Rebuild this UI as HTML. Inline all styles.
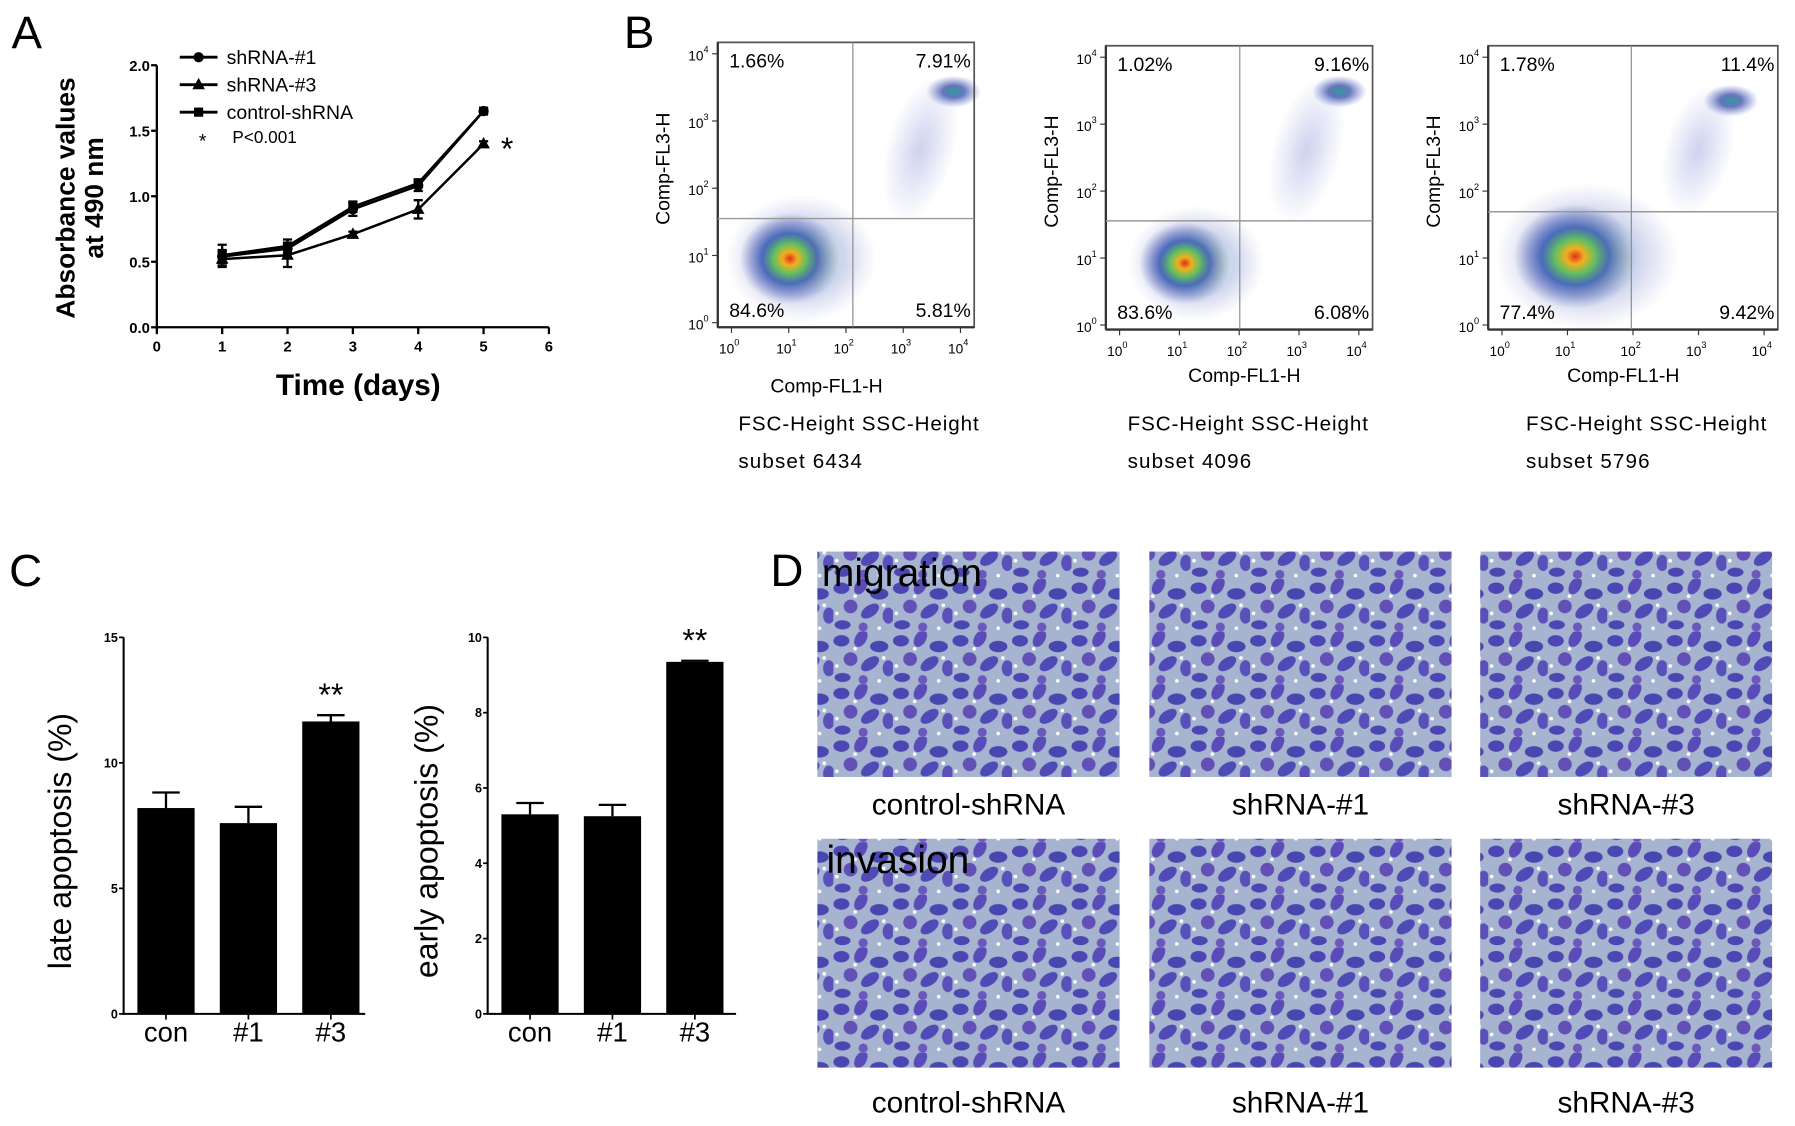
<!DOCTYPE html>
<html><head><meta charset="utf-8"><style>
html,body{margin:0;padding:0;background:#fff;}
svg{display:block;font-family:"Liberation Sans",sans-serif;}
</style></head><body>
<svg id="fig" width="1795" height="1126" viewBox="0 0 1568 984" preserveAspectRatio="none" xmlns="http://www.w3.org/2000/svg">
<defs>
  <radialGradient id="dens" cx="50%" cy="50%" r="50%">
    <stop offset="0" stop-color="#e0301a"/>
    <stop offset="0.15" stop-color="#f0b020"/>
    <stop offset="0.33" stop-color="#60c060"/>
    <stop offset="0.55" stop-color="#2a4fb0" stop-opacity="0.8"/>
    <stop offset="0.8" stop-color="#4050b0" stop-opacity="0.35"/>
    <stop offset="1" stop-color="#6070c0" stop-opacity="0"/>
  </radialGradient>
  <radialGradient id="densSmall" cx="50%" cy="50%" r="50%">
    <stop offset="0" stop-color="#30a0a0"/>
    <stop offset="0.4" stop-color="#2a40a0" stop-opacity="0.7"/>
    <stop offset="1" stop-color="#5060c0" stop-opacity="0"/>
  </radialGradient>
  <radialGradient id="streak" cx="50%" cy="50%" r="50%">
    <stop offset="0" stop-color="#5a6ac8" stop-opacity="0.3"/>
    <stop offset="1" stop-color="#5a6ac8" stop-opacity="0"/>
  </radialGradient>
  <pattern id="cells" width="52" height="46" patternUnits="userSpaceOnUse">
    <rect width="52" height="46" fill="#a6b4d0"/>
    <ellipse cx="7" cy="8" rx="7" ry="5" fill="#4c46b4"/>
    <ellipse cx="24" cy="6" rx="5" ry="8" fill="#5a4cb8" transform="rotate(30 24 6)"/>
    <ellipse cx="40" cy="13" rx="8" ry="5" fill="#4a46b0"/>
    <ellipse cx="15" cy="24" rx="6" ry="6" fill="#6250b6"/>
    <ellipse cx="32" cy="28" rx="9" ry="5" fill="#4f4ab6" transform="rotate(-35 32 28)"/>
    <ellipse cx="48" cy="32" rx="5" ry="7" fill="#5a50ba"/>
    <ellipse cx="8" cy="40" rx="7" ry="4" fill="#4c46b2"/>
    <ellipse cx="26" cy="42" rx="4" ry="4" fill="#6a58bc"/>
    <circle cx="19" cy="15" r="1.6" fill="#fff"/>
    <circle cx="44" cy="23" r="1.6" fill="#fff"/>
    <circle cx="3" cy="30" r="1.6" fill="#fff"/>
    <circle cx="40" cy="43" r="1.6" fill="#fff"/>
  </pattern>
</defs>
<g id="panelA"></g>
<g id="panelB"></g>
<g id="panelC"></g>
<g id="panelD"></g>
</svg>
<script>
// ---- Panel A data ----
const days = [1, 2, 3, 4, 5];
const xTicksA = [0, 1, 2, 3, 4, 5, 6];
const yTicksA = [0.0, 0.5, 1.0, 1.5, 2.0];
const sh1 = [0.54, 0.60, 0.90, 1.08, 1.65];
const sh1Err = [0.05, 0.04, 0.05, 0.04, 0.01];
const sh3 = [0.52, 0.55, 0.71, 0.90, 1.40];
const sh3Err = [0.06, 0.09, 0.02, 0.07, 0.02];
const ctrl = [0.55, 0.62, 0.92, 1.10, 1.65];
const ctrlErr = [0.08, 0.05, 0.04, 0.03, 0.01];
// ---- Panel B data ----
const flowQuadTL = ["1.66%", "1.02%", "1.78%"];
const flowQuadTR = ["7.91%", "9.16%", "11.4%"];
const flowQuadBL = ["84.6%", "83.6%", "77.4%"];
const flowQuadBR = ["5.81%", "6.08%", "9.42%"];
const flowSubsets = ["6434", "4096", "5796"];
// ---- Panel C data ----
const groupsC = ["con", "#1", "#3"];
const lateVals = [8.2, 7.6, 11.65];
const lateErr = [0.62, 0.65, 0.25];
const lateTicks = [0, 5, 10, 15];
const earlyVals = [5.3, 5.25, 9.35];
const earlyErr = [0.3, 0.3, 0.03];
const earlyTicks = [0, 2, 4, 6, 8, 10];
// ---- Panel D labels ----
const dGroups = ["control-shRNA", "shRNA-#1", "shRNA-#3"];
const dRows = ["migration", "invasion"];

const NS = "http://www.w3.org/2000/svg";
function mk(parent, tag, attrs, text) {
  const e = document.createElementNS(NS, tag);
  for (const k in attrs) e.setAttribute(k, attrs[k]);
  if (text !== undefined) e.textContent = text;
  parent.appendChild(e);
  return e;
}

// ================= Panel A =================
(function(){
  const g = document.getElementById('panelA');
  const x0 = 137, x1 = 479.5, yb = 286, yt = 57;
  const xs = v => x0 + (v - 0) / 6 * (x1 - x0);
  const ys = v => yb - v / 2.0 * (yb - yt);
  let t = mk(g, 'text', {x: 10, y: 42, 'font-size': 40}, 'A');
  
  
  let ax = mk(g, 'path', {d: `M${x0},${yt} V${yb} H${x1}`, stroke: '#000', 'stroke-width': 2, fill: 'none'});
  
  
  yTicksA.forEach(v => {
    mk(g, 'line', {x1: x0 - 5, x2: x0, y1: ys(v), y2: ys(v), stroke: '#000', 'stroke-width': 2});
    const l = mk(g, 'text', {x: x0 - 6, y: ys(v) + 5, 'font-size': 13, 'font-weight': 'bold', 'text-anchor': 'end'}, v.toFixed(1));
    
    
  });
  xTicksA.forEach(v => {
    mk(g, 'line', {x1: xs(v), x2: xs(v), y1: yb, y2: yb + 6, stroke: '#000', 'stroke-width': 2});
    const l = mk(g, 'text', {x: xs(v), y: yb + 21, 'font-size': 13, 'font-weight': 'bold', 'text-anchor': 'middle'}, String(v));
    
    
  });
  t = mk(g, 'text', {x: 313, y: 345, 'font-size': 26, 'font-weight': 'bold', 'text-anchor': 'middle'}, 'Time (days)');
  
  
  t = mk(g, 'text', {x: 0, y: 0, 'font-size': 23, 'font-weight': 'bold', 'text-anchor': 'middle', transform: 'translate(65,173) rotate(-90)'}, 'Absorbance values');
  
  
  t = mk(g, 'text', {x: 0, y: 0, 'font-size': 23, 'font-weight': 'bold', 'text-anchor': 'middle', transform: 'translate(90,173) rotate(-90)'}, 'at 490 nm');
  
  

  function marker(gp, type, cx, cy) {
    if (type === 'circle') return mk(gp, 'circle', {cx: cx, cy: cy, r: 4.5, fill: '#000'});
    if (type === 'square') return mk(gp, 'rect', {x: cx - 4, y: cy - 4, width: 8, height: 8, fill: '#000'});
    return mk(gp, 'path', {d: `M${cx},${cy - 6} L${cx + 5.5},${cy + 4} L${cx - 5.5},${cy + 4} Z`, fill: '#000'});
  }
  const series = [
    {name: 'shRNA-#1', vals: sh1, err: sh1Err, m: 'circle'},
    {name: 'shRNA-#3', vals: sh3, err: sh3Err, m: 'triangle'},
    {name: 'control-shRNA', vals: ctrl, err: ctrlErr, m: 'square'}
  ];
  series.forEach((s, si) => {
    const sg = mk(g, 'g', {});
    
    
    mk(sg, 'polyline', {points: days.map((d, i) => xs(d) + ',' + ys(s.vals[i])).join(' '), fill: 'none', stroke: '#000', 'stroke-width': 2.2});
    days.forEach((d, i) => {
      const cx = xs(d), lo = ys(s.vals[i] - s.err[i]), hi = ys(s.vals[i] + s.err[i]);
      mk(sg, 'path', {d: `M${cx},${lo} V${hi} M${cx - 4},${lo} H${cx + 4} M${cx - 4},${hi} H${cx + 4}`, stroke: '#000', 'stroke-width': 2, fill: 'none'});
      const p = marker(sg, s.m, cx, ys(s.vals[i]));
      
      
    });
    const ly = 50 + si * 24;
    const lg = mk(g, 'g', {});
    
    
    mk(lg, 'line', {x1: 157, x2: 190, y1: ly, y2: ly, stroke: '#000', 'stroke-width': 2.5});
    marker(lg, s.m, 173.5, ly);
    mk(lg, 'text', {x: 198, y: ly + 6, 'font-size': 17}, s.name);
  });
  const lg = mk(g, 'g', {});
  
  
  mk(lg, 'text', {x: 177, y: 129, 'font-size': 17, 'text-anchor': 'middle'}, '*');
  mk(lg, 'text', {x: 203, y: 125, 'font-size': 15}, 'P<0.001');
  t = mk(g, 'text', {x: 443, y: 140, 'font-size': 28, 'text-anchor': 'middle'}, '*');
  
  
})();

// ================= Panel B =================
(function(){
  const g = document.getElementById('panelB');
  let t = mk(g, 'text', {x: 545, y: 42, 'font-size': 40}, 'B');
  
  
  const plots = [
    {l: 627, r: 851, top: 37, bot: 286, gx: 745, gy: 191, cx: 690, cy: 226, rx: 44, ry: 40, tx: 833, ty: 80, xt: 722, xty: 343, fx: 645},
    {l: 966, r: 1199, top: 40, bot: 288, gx: 1083, gy: 193, cx: 1035, cy: 230, rx: 40, ry: 36, tx: 1170, ty: 80, xt: 1087, xty: 334, fx: 985},
    {l: 1300, r: 1553, top: 40, bot: 288, gx: 1425, gy: 185, cx: 1376, cy: 224, rx: 54, ry: 46, tx: 1512, ty: 88, xt: 1418, xty: 334, fx: 1333}
  ];
  plots.forEach((p, i) => {
    const pg = mk(g, 'g', {});
    
    
    const sx = (p.gx + 30 + p.tx) / 2, sy = (p.gy - 10 + p.ty) / 2;
    mk(pg, 'ellipse', {cx: sx, cy: sy, rx: 30, ry: (p.gy - p.ty) / 2 + 10, fill: 'url(#streak)', transform: `rotate(15 ${sx} ${sy})`});
    mk(pg, 'ellipse', {cx: p.cx + 10, cy: p.cy, rx: p.rx * 1.5, ry: p.ry * 1.4, fill: 'url(#dens)', opacity: 0.3});
    mk(pg, 'ellipse', {cx: p.cx, cy: p.cy, rx: p.rx, ry: p.ry, fill: 'url(#dens)'});
    mk(pg, 'ellipse', {cx: p.tx, cy: p.ty, rx: 24, ry: 14, fill: 'url(#densSmall)'});
    mk(pg, 'path', {d: `M${p.l},${p.top} H${p.r} V${p.bot} H${p.l} Z`, fill: 'none', stroke: '#555', 'stroke-width': 1.5});
    mk(pg, 'line', {x1: p.l, x2: p.l, y1: p.top, y2: p.bot, stroke: '#333', 'stroke-width': 2});
    mk(pg, 'line', {x1: p.l, x2: p.r, y1: p.bot, y2: p.bot, stroke: '#333', 'stroke-width': 2});
    mk(pg, 'line', {x1: p.gx, x2: p.gx, y1: p.top, y2: p.bot, stroke: '#888', 'stroke-width': 1});
    mk(pg, 'line', {x1: p.l, x2: p.r, y1: p.gy, y2: p.gy, stroke: '#999', 'stroke-width': 1.3});
    for (let d = 0; d <= 4; d++) {
      const yy = p.bot - 4 - d * (p.bot - p.top - 14) / 4;
      const xx = p.l + 12 + d * (p.r - p.l - 24) / 4;
      mk(pg, 'line', {x1: p.l - 5, x2: p.l, y1: yy, y2: yy, stroke: '#333'});
      mk(pg, 'line', {x1: xx, x2: xx, y1: p.bot, y2: p.bot + 5, stroke: '#333'});
      const yl = mk(pg, 'text', {x: p.l - 8, y: yy + 6, 'font-size': 12, 'text-anchor': 'end'}, '10');
      mk(yl, 'tspan', {dy: -7, 'font-size': 8}, String(d));
      const xl = mk(pg, 'text', {x: xx - 2, y: p.bot + 23, 'font-size': 12, 'text-anchor': 'middle'}, '10');
      mk(xl, 'tspan', {dy: -7, 'font-size': 8}, String(d));
    }
    const q = [[p.l + 10, p.top + 22, 'start', flowQuadTL[i]], [p.r - 3, p.top + 22, 'end', flowQuadTR[i]], [p.l + 10, p.bot - 9, 'start', flowQuadBL[i]], [p.r - 3, p.bot - 9, 'end', flowQuadBR[i]]];
    q.forEach(a => {
      const qt = mk(pg, 'text', {x: a[0], y: a[1], 'font-size': 17, 'text-anchor': a[2]}, a[3]);
      
      
    });
    const yt = mk(pg, 'text', {x: 0, y: 0, 'font-size': 17, 'text-anchor': 'middle', transform: `translate(${p.l - 42},${(p.top + p.bot) / 2 - 14}) rotate(-90)`}, 'Comp-FL3-H');
    
    
    const xt = mk(pg, 'text', {x: p.xt, y: p.xty, 'font-size': 17, 'text-anchor': 'middle'}, 'Comp-FL1-H');
    
    
    const f1 = mk(pg, 'text', {x: p.fx, y: 376, 'font-size': 18, textLength: 210, lengthAdjust: 'spacing'}, 'FSC-Height  SSC-Height');
    
    
    const f2 = mk(pg, 'text', {x: p.fx, y: 409, 'font-size': 18, textLength: 108, lengthAdjust: 'spacing'}, 'subset  ' + flowSubsets[i]);
    
    
  });
})();

// ================= Panel C =================
(function(){
  const g = document.getElementById('panelC');
  let t = mk(g, 'text', {x: 8, y: 512, 'font-size': 40}, 'C');
  
  
  const charts = [
    {ax: 108, end: 319, bx: [120, 192, 264], bw: 50, max: 15, vals: lateVals, err: lateErr, ticks: lateTicks, title: 'late apoptosis (%)', tx: 52, name: 'late-apoptosis-chart'},
    {ax: 426, end: 643, bx: [438, 510, 582], bw: 50, max: 10, vals: earlyVals, err: earlyErr, ticks: earlyTicks, title: 'early apoptosis (%)', tx: 372, name: 'early-apoptosis-chart'}
  ];
  const yb = 886, yt = 557;
  charts.forEach(c => {
    const cg = mk(g, 'g', {});
    
    
    const ys = v => yb - v / c.max * (yb - yt);
    mk(cg, 'path', {d: `M${c.ax},${yt} V${yb} H${c.end}`, stroke: '#000', 'stroke-width': 1.8, fill: 'none'});
    c.ticks.forEach(v => {
      mk(cg, 'line', {x1: c.ax - 4, x2: c.ax, y1: ys(v), y2: ys(v), stroke: '#000', 'stroke-width': 1.5});
      const l = mk(cg, 'text', {x: c.ax - 5, y: ys(v) + 4, 'font-size': 11, 'font-weight': 'bold', 'text-anchor': 'end'}, String(v));
      
      
    });
    c.vals.forEach((v, i) => {
      const x = c.bx[i], cx = x + c.bw / 2;
      const b = mk(cg, 'rect', {x: x, y: ys(v), width: c.bw, height: yb - ys(v), fill: '#000'});
      
      
      const hi = ys(v + c.err[i]);
      mk(cg, 'path', {d: `M${cx},${ys(v)} V${hi} M${cx - 12},${hi} H${cx + 12}`, stroke: '#000', 'stroke-width': 2, fill: 'none'});
      mk(cg, 'line', {x1: cx, x2: cx, y1: yb, y2: yb + 5, stroke: '#000', 'stroke-width': 1.5});
      const l = mk(cg, 'text', {x: cx, y: yb + 24, 'font-size': 24, 'text-anchor': 'middle'}, groupsC[i]);
      
      
    });
    const st = mk(cg, 'text', {x: c.bx[2] + c.bw / 2, y: ys(c.vals[2] + c.err[2]) - 8, 'font-size': 28, 'text-anchor': 'middle'}, '**');
    
    
    const tt = mk(cg, 'text', {x: 0, y: 0, 'font-size': 28, 'text-anchor': 'middle', transform: `translate(${c.tx + 10},735) rotate(-90)`}, c.title);
    
    
  });
})();

// ================= Panel D =================
(function(){
  const g = document.getElementById('panelD');
  let t = mk(g, 'text', {x: 673, y: 512, 'font-size': 40}, 'D');
  
  
  const cols = [[714, 978], [1004, 1268], [1293, 1548]];
  const rows = [[482, 679, 703], [733, 933, 963]];
  rows.forEach((r, ri) => {
    cols.forEach((c, ci) => {
      const im = mk(g, 'rect', {x: c[0], y: r[0], width: c[1] - c[0], height: r[1] - r[0], fill: 'url(#cells)'});
      
      
      const l = mk(g, 'text', {x: (c[0] + c[1]) / 2, y: r[2] + 9, 'font-size': 26, 'text-anchor': 'middle'}, dGroups[ci]);
      
      
    });
    const rl = mk(g, 'text', {x: 718 + ri * 4, y: r[0] + 30, 'font-size': 34}, dRows[ri]);
    
    
  });
})();
</script>
</body></html>
